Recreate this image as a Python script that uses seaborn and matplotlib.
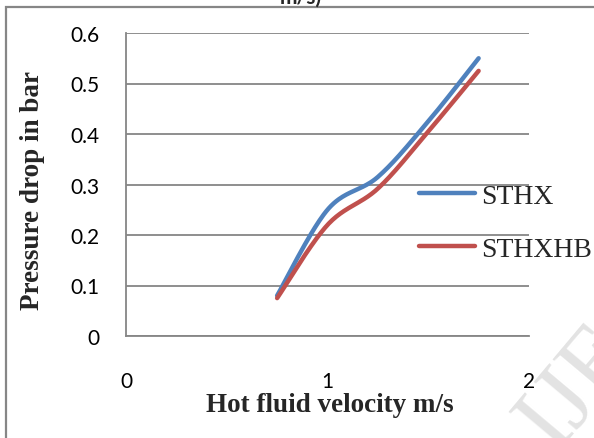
import numpy as np
import pandas as pd
import matplotlib
matplotlib.use("Agg")
import matplotlib.pyplot as plt
import seaborn as sns
from matplotlib.patches import Rectangle
from matplotlib.lines import Line2D

# ---- data ----
velocity = [0.75, 1.0, 1.25, 1.5, 1.75]
sthx = [0.080, 0.250, 0.315, 0.425, 0.550]
sthxhb = [0.075, 0.220, 0.292, 0.405, 0.525]
series_names = ["STHX", "STHXHB"]
x_ticks = [0, 1, 2]
y_ticks = [0, 0.1, 0.2, 0.3, 0.4, 0.5, 0.6]

BLUE = "#4F81BD"
RED = "#C0504D"
GRAY = "#868686"


def excel_smooth(xs, ys, n=40):
    """Excel-style smoothed line: cubic Bezier segments with Catmull-Rom control points."""
    xs = np.asarray(xs, float)
    ys = np.asarray(ys, float)
    P = np.column_stack([xs, ys])
    out = []
    m = len(P)
    for i in range(m - 1):
        p0 = P[i - 1] if i > 0 else P[i]
        p1 = P[i]
        p2 = P[i + 1]
        p3 = P[i + 2] if i + 2 < m else P[i + 1]
        c1 = p1 + (p2 - p0) / 6.0
        c2 = p2 - (p3 - p1) / 6.0
        t = np.linspace(0, 1, n, endpoint=(i == m - 2))[:, None]
        seg = ((1 - t) ** 3) * p1 + 3 * ((1 - t) ** 2) * t * c1 + 3 * (1 - t) * t ** 2 * c2 + t ** 3 * p2
        out.append(seg)
    return np.vstack(out)


sns.set_style("white")
plt.rcParams["font.family"] = ["Lato", "DejaVu Sans"]

W, H = 594, 439
fig = plt.figure(figsize=(W / 100, H / 100), dpi=100)
ax = fig.add_axes([126 / W, 1 - 337 / H, (529 - 126) / W, (337 - 34) / H])

frames = []
for name, vals in zip(series_names, [sthx, sthxhb]):
    sm = excel_smooth(velocity, vals)
    frames.append(pd.DataFrame({"x": sm[:, 0], "y": sm[:, 1], "series": name,
                                "order": np.arange(len(sm))}))
df = pd.concat(frames, ignore_index=True)

sns.lineplot(data=df, x="x", y="y", hue="series", palette=[BLUE, RED],
             sort=False, estimator=None, units="series", linewidth=3.2,
             legend=False, ax=ax, solid_capstyle="round")

ax.set_xlim(0, 2)
ax.set_ylim(0, 0.6)
ax.set_xticks(x_ticks)
ax.set_yticks(y_ticks)
ax.set_xticklabels([str(v) for v in x_ticks])
ax.set_yticklabels(["0" if v == 0 else f"{v:.1f}" for v in y_ticks])
ax.yaxis.grid(True, color=GRAY, linewidth=1.3)
ax.xaxis.grid(False)
ax.set_axisbelow(True)
for s in ["top", "right"]:
    ax.spines[s].set_visible(False)
for s in ["left", "bottom"]:
    ax.spines[s].set_color(GRAY)
    ax.spines[s].set_linewidth(1.3)
ax.tick_params(axis="both", which="major", direction="out", length=6,
               width=1.3, color=GRAY, labelsize=15, labelcolor="black")
ax.tick_params(axis="y", pad=13)
ax.tick_params(axis="x", pad=19)
ax.set_xlabel("")
ax.set_ylabel("")

# axis titles
serif = ["Liberation Serif", "DejaVu Serif"]
fig.text(330 / W, 1 - 406 / H, "Hot fluid velocity m/s", ha="center", va="center",
         family=serif, fontweight="bold", fontsize=19.5)
fig.text(33 / W, 1 - 191 / H, "Pressure drop in bar", ha="center", va="center",
         rotation=90, family=serif, fontweight="bold", fontsize=19.5)

# clipped chart title (only the bottom is visible)
fig.text(301 / W, 1 - 4 / H, "m/s)", ha="center", va="baseline",
         fontweight="bold", fontsize=15)

# legend
handles = [Line2D([0], [0], color=BLUE, lw=3.2, solid_capstyle="round"),
           Line2D([0], [0], color=RED, lw=3.2, solid_capstyle="round")]
leg = ax.legend(handles, series_names, loc="center left",
                bbox_to_anchor=(419 / W, 1 - 223.5 / H), bbox_transform=fig.transFigure,
                frameon=False, borderpad=0, borderaxespad=0, handlelength=2.0,
                handletextpad=0.25, labelspacing=1.0,
                prop={"family": serif, "size": 20})

# figure border
fig.patches.append(Rectangle((6 / W, -0.05), 1.2, 1 - 8 / H + 0.05,
                             transform=fig.transFigure, fill=False,
                             edgecolor=GRAY, linewidth=1.6, clip_on=False))

# faint watermark in the bottom-right corner
fig.text(578 / W, 1 - 388 / H, "IJE", ha="center", va="center", rotation=50,
         family=serif, fontsize=70, color="#e3e3e3", zorder=0)

fig.savefig("out.png", dpi=100)
